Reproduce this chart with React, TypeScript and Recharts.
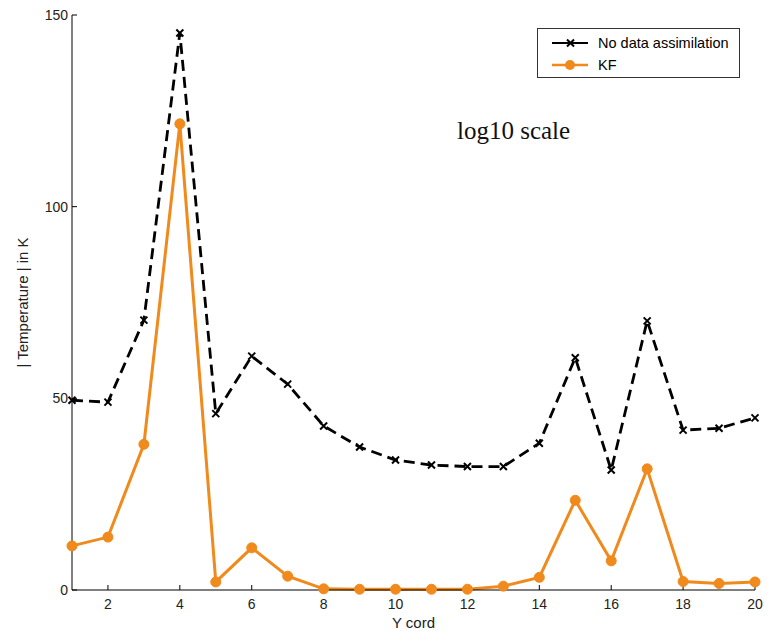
import { LineChart, Line, XAxis, YAxis, Legend } from 'recharts'

const positions = [1, 2, 3, 4, 5, 6, 7, 8, 9, 10, 11, 12, 13, 14, 15, 16, 17, 18, 19, 20]
const noAssimilation = [49.5, 49, 70.4, 145.3, 46, 61, 53.7, 42.8, 37.3, 33.9, 32.6, 32.2, 32.2, 38.3, 60.6, 31.3, 70.2, 41.7, 42.2, 44.9]
const kf = [11.5, 13.8, 38, 121.6, 2.1, 11, 3.6, 0.3, 0.2, 0.2, 0.2, 0.2, 1, 3.3, 23.4, 7.6, 31.6, 2.2, 1.7, 2.1]
const xTicks = [2, 4, 6, 8, 10, 12, 14, 16, 18, 20]
const yTicks = [0, 50, 100, 150]

const data = positions.map((p, i) => ({ pos: p, none: noAssimilation[i], kf: kf[i] }))

const ORANGE = '#F08A1C'
const FONT = 'Liberation Sans, Arial, sans-serif'
const tickStyle = { fontSize: 14, fill: '#222', fontFamily: FONT }

const Cross = (props: any) => {
  const { cx, cy, index } = props
  if (cx == null || cy == null) return <g key={index} />
  const s = 3.5
  return (
    <path
      key={index}
      d={`M${cx - s},${cy - s}L${cx + s},${cy + s}M${cx - s},${cy + s}L${cx + s},${cy - s}`}
      stroke="#000"
      strokeWidth={2}
    />
  )
}

const LegendBox = () => (
  <div
    style={{
      width: 203,
      height: 50,
      border: '1px solid #333',
      background: '#fff',
      boxSizing: 'border-box',
      fontFamily: FONT,
      fontSize: 14.5,
      color: '#111',
    }}
  >
    <svg width={201} height={48} style={{ display: 'block' }}>
      <line x1={14} x2={50} y1={14} y2={14} stroke="#000" strokeWidth={2} />
      <path d="M29,10.5L36,17.5M29,17.5L36,10.5" stroke="#000" strokeWidth={2} />
      <text x={60} y={19} fontSize={14.5} fontFamily={FONT}>No data assimilation</text>
      <line x1={14} x2={50} y1={36} y2={36} stroke={ORANGE} strokeWidth={2.5} />
      <circle cx={32} cy={36} r={5} fill={ORANGE} />
      <text x={60} y={41} fontSize={14.5} fontFamily={FONT}>KF</text>
    </svg>
  </div>
)

const YLabel = (props: any) => {
  const vb = props.viewBox || { x: 0, y: 0, height: 0 }
  const cx = vb.x + 22
  const cy = vb.y + vb.height / 2
  return (
    <text
      x={cx}
      y={cy}
      transform={`rotate(-90 ${cx} ${cy})`}
      textAnchor="middle"
      dominantBaseline="central"
      fontSize={15}
      fontFamily={FONT}
      fill="#222"
    >
      | Temperature | in K
    </text>
  )
}

export default function App() {
  return (
    <div style={{ position: 'absolute', left: 0, top: 0, width: 772, height: 633, background: '#fff' }}>
      <LineChart width={772} height={633} data={data} margin={{ top: 15, right: 17, bottom: 0, left: 0 }}>
        <XAxis
          xAxisId="b"
          dataKey="pos"
          type="number"
          domain={[1, 20]}
          ticks={xTicks}
          height={43}
          tickSize={-5}
          tickMargin={14}
          tick={tickStyle}
          axisLine={{ stroke: '#000' }}
          tickLine={{ stroke: '#000' }}
          label={{ value: 'Y cord', position: 'insideBottom', offset: 5, style: { fontSize: 15, fontFamily: FONT, fill: '#222' } }}
        />
        <XAxis
          xAxisId="t"
          orientation="top"
          dataKey="pos"
          type="number"
          domain={[1, 20]}
          ticks={xTicks}
          height={0}
          tickSize={-5}
          tick={false}
          axisLine={{ stroke: '#000' }}
          tickLine={{ stroke: '#000' }}
        />
        <YAxis
          yAxisId="l"
          type="number"
          domain={[0, 150]}
          ticks={yTicks}
          width={72}
          tickSize={-5}
          tickMargin={9}
          tick={tickStyle}
          axisLine={{ stroke: '#000' }}
          tickLine={{ stroke: '#000' }}
          label={{ content: YLabel }}
        />
        <YAxis
          yAxisId="r"
          orientation="right"
          type="number"
          domain={[0, 150]}
          ticks={yTicks}
          width={0}
          tickSize={-5}
          tick={false}
          axisLine={{ stroke: '#000' }}
          tickLine={{ stroke: '#000' }}
        />
        <Legend
          layout="horizontal"
          verticalAlign="middle"
          align="center"
          wrapperStyle={{ left: 537, top: 28, width: 205, height: 51 }}
          content={() => <LegendBox />}
        />
        <Line
          xAxisId="b"
          yAxisId="l"
          dataKey="none"
          name="No data assimilation"
          stroke="#000"
          strokeWidth={2.8}
          strokeDasharray="11 6"
          dot={Cross}
          activeDot={false}
          isAnimationActive={false}
        />
        <Line
          xAxisId="b"
          yAxisId="l"
          dataKey="kf"
          name="KF"
          stroke={ORANGE}
          strokeWidth={3}
          dot={{ r: 5, fill: ORANGE, stroke: ORANGE, strokeWidth: 1 }}
          activeDot={false}
          isAnimationActive={false}
        />
      </LineChart>
      <div
        style={{
          position: 'absolute',
          left: 457,
          top: 116,
          fontFamily: 'Liberation Serif, Times New Roman, serif',
          fontSize: 25,
          color: '#111',
          lineHeight: '30px',
        }}
      >
        log10 scale
      </div>
    </div>
  )
}
